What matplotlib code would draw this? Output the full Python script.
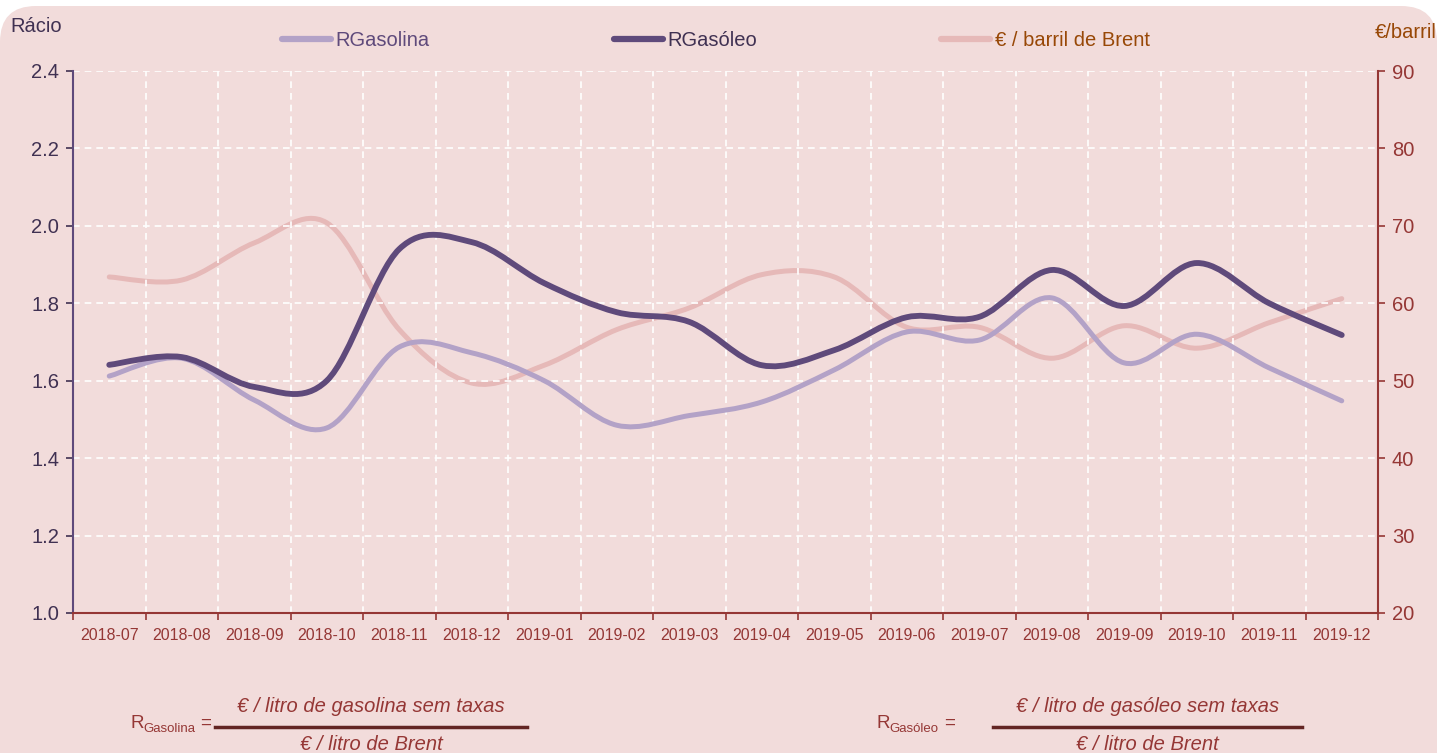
import matplotlib
matplotlib.use("Agg")
import matplotlib.pyplot as plt
from matplotlib.path import Path
from matplotlib.patches import PathPatch, FancyBboxPatch
from matplotlib.lines import Line2D
import matplotlib.ticker as mticker
import numpy as np

months = ["2018-07", "2018-08", "2018-09", "2018-10", "2018-11", "2018-12",
          "2019-01", "2019-02", "2019-03", "2019-04", "2019-05", "2019-06",
          "2019-07", "2019-08", "2019-09", "2019-10", "2019-11", "2019-12"]
r_gasolina = [1.612, 1.658, 1.55, 1.478, 1.687, 1.672, 1.60, 1.485, 1.51,
              1.545, 1.628, 1.726, 1.705, 1.814, 1.646, 1.72, 1.633, 1.548]
r_gasoleo = [1.641, 1.661, 1.584, 1.60, 1.94, 1.958, 1.852, 1.777, 1.752,
             1.64, 1.679, 1.764, 1.765, 1.886, 1.793, 1.904, 1.80, 1.718]
brent = [63.4, 63.0, 67.8, 70.4, 56.6, 49.7, 52.0, 56.6, 59.4,
         63.7, 63.4, 56.9, 56.9, 52.9, 57.1, 54.2, 57.5, 60.6]

BG = "#F2DCDB"
C_GASOLINA = "#B3A2C7"
C_GASOLEO = "#5F4A7B"
C_BRENT = "#E6B9B8"
RED = "#953735"
BROWN = "#984807"
DARK = "#403152"

W, H = 1438, 753
plt.rcParams["font.family"] = ["Liberation Sans", "DejaVu Sans"]


def smooth_path(xs, ys):
    # Excel-like smoothed line: cubic Bezier through each point
    pts = np.column_stack([xs, ys]).astype(float)
    n = len(pts)
    verts = [pts[0]]
    codes = [Path.MOVETO]
    for i in range(n - 1):
        p0 = pts[i - 1] if i > 0 else pts[i]
        p1, p2 = pts[i], pts[i + 1]
        p3 = pts[i + 2] if i + 2 < n else pts[i + 1]
        c1 = p1 + (p2 - p0) / 6.0
        c2 = p2 - (p3 - p1) / 6.0
        verts += [c1, c2, p2]
        codes += [Path.CURVE4] * 3
    return Path(verts, codes)


def px(x, y):
    return x / W, 1 - y / H


fig = plt.figure(figsize=(W / 100, H / 100), dpi=100, facecolor="white")
bg = FancyBboxPatch((0, -0.1), 1 - 1 / W, 1.1 - 6 / H,
                    boxstyle="round,pad=0,rounding_size=0.025",
                    transform=fig.transFigure, facecolor=BG,
                    edgecolor="none", mutation_aspect=W / H, zorder=-5)
fig.patches.append(bg)

ax = fig.add_axes([73 / W, 1 - 613 / H, (1378 - 73) / W, (613 - 71) / H])
ax2 = ax.twinx()
ax2.set_facecolor(BG)
ax.set_zorder(ax2.get_zorder() + 1)
ax.patch.set_visible(False)

x = np.arange(len(months))
ax2.add_patch(PathPatch(smooth_path(x, brent), fill=False, edgecolor=C_BRENT,
                        lw=3.6, capstyle="round", joinstyle="round"))
ax.add_patch(PathPatch(smooth_path(x, r_gasolina), fill=False, edgecolor=C_GASOLINA,
                       lw=3.6, capstyle="round", joinstyle="round", zorder=3))
ax.add_patch(PathPatch(smooth_path(x, r_gasoleo), fill=False, edgecolor=C_GASOLEO,
                       lw=4.2, capstyle="round", joinstyle="round", zorder=4))

ax.set_xlim(-0.5, len(months) - 0.5)
ax.set_ylim(1.0, 2.4)
ax2.set_ylim(20, 90)
ax.yaxis.set_major_locator(mticker.MultipleLocator(0.2))
ax.yaxis.set_major_formatter(mticker.FormatStrFormatter("%.1f"))
ax2.yaxis.set_major_locator(mticker.MultipleLocator(10))

ax.set_xticks(np.arange(-0.5, len(months), 1.0))
ax.set_xticklabels([])
ax.set_xticks(x, minor=True)
ax.set_xticklabels(months, minor=True, fontsize=11.5, color=RED)
ax.tick_params(axis="x", which="major", length=5, width=1.2, color=RED, direction="out")
ax.tick_params(axis="x", which="minor", length=0, pad=11)
ax.tick_params(axis="y", length=5, width=1.2, color=DARK, labelsize=14.5,
               labelcolor=DARK, pad=5)
ax2.tick_params(axis="y", length=5, width=1.2, color=RED, labelsize=14.5,
                labelcolor=RED, pad=5)

ax.grid(True, which="major", color="white", ls=(0, (4, 3)), lw=1.2)

for a in (ax, ax2):
    for s in a.spines.values():
        s.set_visible(False)
ax.spines["left"].set_visible(True)
ax.spines["left"].set_color(C_GASOLEO)
ax.spines["left"].set_linewidth(1.5)
ax.spines["bottom"].set_visible(True)
ax.spines["bottom"].set_color(RED)
ax.spines["bottom"].set_linewidth(1.5)
# right spine drawn on the top axes so it covers the last grid line
ax.spines["right"].set_visible(True)
ax.spines["right"].set_color(RED)
ax.spines["right"].set_linewidth(1.5)

handles = [Line2D([], [], color=C_GASOLINA, lw=4.5, solid_capstyle="round"),
           Line2D([], [], color=C_GASOLEO, lw=4.5, solid_capstyle="round"),
           Line2D([], [], color=C_BRENT, lw=4.5, solid_capstyle="round")]
leg = fig.legend(handles, ["RGasolina", "RGasóleo", "€ / barril de Brent"],
                 loc="center left", bbox_to_anchor=px(282, 41), ncol=3,
                 frameon=False, fontsize=14.5, handlelength=2.45,
                 handletextpad=0.2, columnspacing=9.15, borderaxespad=0,
                 borderpad=0)
for t, c in zip(leg.get_texts(), [C_GASOLEO, DARK, BROWN]):
    t.set_color(c)

fig.text(*px(10, 27), "Rácio", fontsize=14.5, color=DARK, va="center", ha="left")
fig.text(*px(1437, 32), "€/barril", fontsize=14.5, color=BROWN, va="center",
         ha="right")

# formulas below the chart
formulas = [
    (130, 215, 527, "Gasolina", 200, "€ / litro de gasolina sem taxas"),
    (876, 993, 1302, "Gasóleo", 944, "€ / litro de gasóleo sem taxas"),
]
for xr, x0, x1, sub, eq_x, num in formulas:
    fig.text(*px(xr, 724), "R", fontsize=13.5, color=RED, va="center", ha="left")
    fig.text(*px(xr + 13, 729), sub, fontsize=9.5, color=RED, va="center", ha="left")
    fig.text(*px(eq_x, 723), "=", fontsize=13.5, color=RED, va="center", ha="left")
    fig.add_artist(Line2D([x0 / W, x1 / W], [1 - 727 / H, 1 - 727 / H],
                          transform=fig.transFigure, color="#632523", lw=2.5))
    xc = (x0 + x1) / 2
    fig.text(*px(xc, 706), num, fontsize=14.5, color=RED, style="italic",
             va="center", ha="center")
    fig.text(*px(xc, 745), "€ / litro de Brent", fontsize=14.5, color=RED,
             style="italic", va="center", ha="center")

fig.savefig("out.png", dpi=100, facecolor=fig.get_facecolor())
